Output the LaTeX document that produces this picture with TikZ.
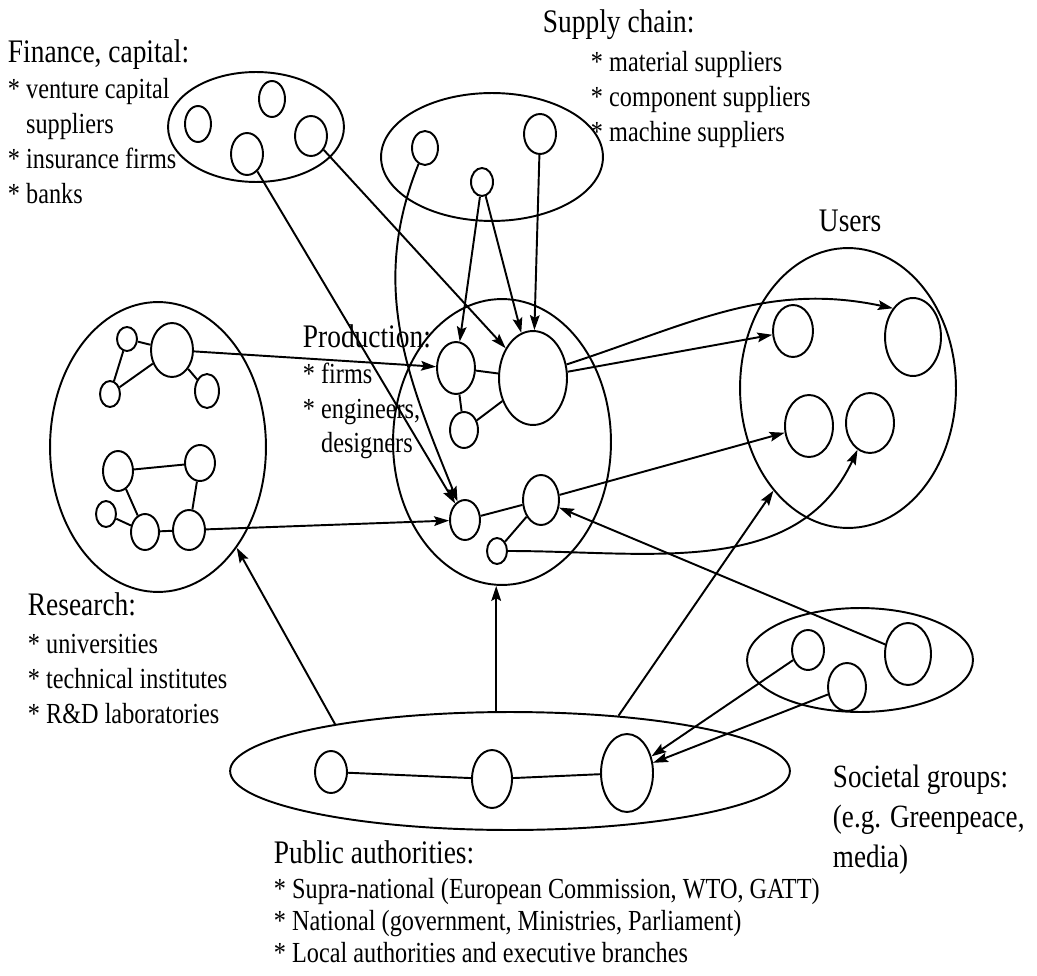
\documentclass[tikz,border=0pt]{standalone}
\usepackage{fontspec}
\setmainfont{Liberation Serif}
\usepackage{tikz}
\usetikzlibrary{shapes.geometric,arrows.meta}

\newcommand{\headfont}{\fontsize{15.6}{19}\selectfont}
\newcommand{\itemfont}{\fontsize{13.8}{16.6}\selectfont}
\newcommand{\pubitemfont}{\fontsize{13.8}{15.2}\selectfont}
\newcommand{\socfont}{\fontsize{15.4}{19}\selectfont}
\newcommand{\tallblock}[2]{\scalebox{1}[1.2]{#1\begin{tabular}[t]{@{}l@{}}#2\end{tabular}}}

\begin{document}
\begin{tikzpicture}[x=0.02cm,y=-0.02cm,line width=1.1pt,
    oval/.style 2 args={ellipse,draw,inner sep=0pt,minimum width=#1*0.04cm,minimum height=#2*0.04cm},
    arr/.style={-{Stealth[length=8.5pt,width=5.5pt,inset=1.5pt]}},
    lbl/.style={anchor=base west,inner sep=0pt}]
      \useasboundingbox (0,0) rectangle (1037,976);
      % groups
      \node [oval={88}{55}] (fin) at (256,127) {};
      \node [oval={111}{64}] (sup) at (492,157) {};
      \node [oval={108}{145}] (res) at (158,447) {};
      \node [oval={109}{143}] (prod) at (502,442) {};
      \node [oval={108}{140}] (users) at (848,388) {};
      \node [oval={113}{52}] (soc) at (860,660) {};
      \node [oval={280}{59}] (pub) at (510,771) {};
      % actors
      \node [oval={13}{18}] (f1) at (198,124) {};
      \node [oval={13}{18}] (f2) at (272,99) {};
      \node [oval={16}{20}] (f3) at (311,136) {};
      \node [oval={16}{21}] (f4) at (247,154) {};
      \node [oval={13}{17}] (sc1) at (425,148) {};
      \node [oval={11}{14}] (sc2) at (482,182) {};
      \node [oval={16}{20}] (sc3) at (540,134) {};
      \node [oval={10}{12}] (ra) at (127,339) {};
      \node [oval={21}{27}] (rb) at (172,350) {};
      \node [oval={10}{13}] (rc) at (110,394) {};
      \node [oval={12}{17}] (rd) at (207,391) {};
      \node [oval={15}{20}] (re) at (118,471) {};
      \node [oval={15}{18}] (rf) at (200,463) {};
      \node [oval={10}{13}] (rg) at (106,514) {};
      \node [oval={14}{18}] (rh) at (145,532) {};
      \node [oval={16}{20}] (ri) at (189,530) {};
      \node [oval={19}{26}] (p1) at (456,368) {};
      \node [oval={34}{47}] (p2) at (533,378) {};
      \node [oval={14}{18}] (p3) at (464,430) {};
      \node [oval={15}{20}] (p4) at (465,520) {};
      \node [oval={18}{25}] (p5) at (541,500) {};
      \node [oval={10}{13}] (p6) at (497,551) {};
      \node [oval={20}{26}] (u1) at (793,331) {};
      \node [oval={28}{39}] (u2) at (913,337) {};
      \node [oval={24}{31}] (u3) at (809,426) {};
      \node [oval={24}{30}] (u4) at (870,423) {};
      \node [oval={16}{20}] (g1) at (808,650) {};
      \node [oval={19}{24}] (g2) at (847,687) {};
      \node [oval={23}{31}] (g3) at (908,654) {};
      \node [oval={16}{21}] (q1) at (331,772) {};
      \node [oval={20}{29}] (q2) at (492,779) {};
      \node [oval={26}{39}] (q3) at (627,773) {};
      % links inside groups
      \draw (ra) -- (rb);
      \draw (ra) -- (rc);
      \draw (rc) -- (rb);
      \draw (rb) -- (rd);
      \draw (re) -- (rf);
      \draw (re) -- (rh);
      \draw (rg) -- (rh);
      \draw (rh) -- (ri);
      \draw (rf) -- (ri);
      \draw (p1) -- (p2);
      \draw (p1) -- (p3);
      \draw (p3) -- (p2);
      \draw (p4) -- (p5);
      \draw (p6) -- (p5);
      \draw (q1) -- (q2);
      \draw (q2) -- (q3);
      % flows
      \draw [arr] (f3) -- (p2);
      \draw [arr] (f4) -- (p4);
      \draw [arr] (sc1) to[out=-112,in=112] (p4);
      \draw [arr] (sc2) -- (p1);
      \draw [arr] (sc2) -- (p2);
      \draw [arr] (sc3) -- (p2);
      \draw [arr] (rb) -- (p1);
      \draw [arr] (ri) -- (p4);
      \draw [arr] (p2) -- (u1);
      \draw [arr] (p2.22) to[out=18,in=168] (u2.125);
      \draw [arr] (p5) -- (u3);
      \draw [arr] (p6) to[out=0,in=-115] (u4);
      \draw [arr] (g3) -- (p5);
      \draw [arr] (g1) -- (q3);
      \draw [arr] (g2) -- (q3);
      \draw [arr] (pub.165) -- (res.-52);
      \draw [arr] (pub.103) -- (pub.103 |- prod.south);
      \draw [arr] (pub.27) -- (users.234);
      % labels
      \node [lbl] (fintitle) at (7,63) {\tallblock{\headfont}{Finance, capital:}};
      \node [lbl] (finlist) at (7,99) {\tallblock{\itemfont}{{*} venture capital\\ \phantom{* }suppliers\\ {*} insurance firms\\ {*} banks}};
      \node [lbl] (suptitle) at (542,33) {\tallblock{\headfont}{Supply chain:}};
      \node [lbl] (suplist) at (590,72) {\tallblock{\itemfont}{{*} material suppliers\\ {*} component suppliers\\ {*} machine suppliers}};
      \node [lbl] (usertitle) at (818,232) {\tallblock{\headfont}{Users}};
      \node [lbl] (prodtitle) at (302,347) {\tallblock{\headfont}{Production:}};
      \node [lbl] (prodlist) at (302,383) {\tallblock{\itemfont}{{*} firms\\ {*} engineers,\\ \phantom{* }designers}};
      \node [lbl] (restitle) at (27,615) {\tallblock{\headfont}{Research:}};
      \node [lbl] (reslist) at (27,653) {\tallblock{\itemfont}{{*} universities\\ {*} technical institutes\\ {*} R\&D laboratories}};
      \node [lbl] (soctext) at (832,787) {\tallblock{\socfont}{Societal groups:\\ (e.g. Greenpeace,\\ media)}};
      \node [lbl] (pubtitle) at (273,863) {\tallblock{\headfont}{Public authorities:}};
      \node [lbl] (publist) at (273,898) {\tallblock{\pubitemfont}{{*} Supra-national (European Commission, WTO, GATT)\\ {*} National (government, Ministries, Parliament)\\ {*} Local authorities and executive branches}};
\end{tikzpicture}
\end{document}
